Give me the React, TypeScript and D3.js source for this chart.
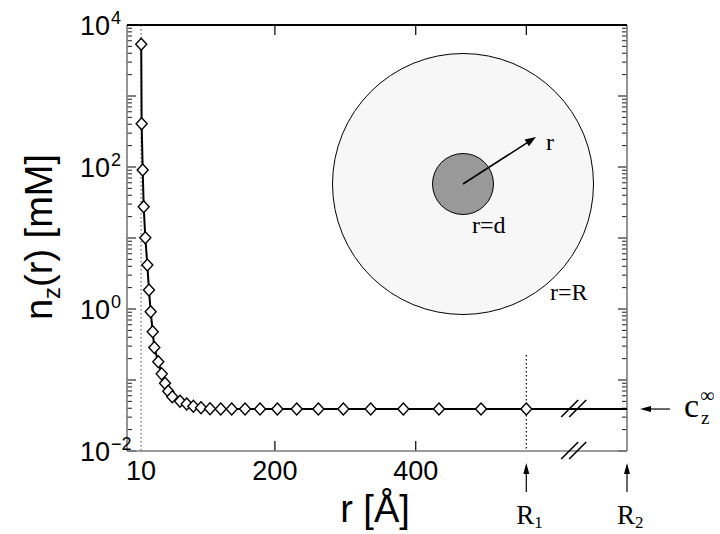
import React from "react";
import * as d3 from "d3";

// ---- data ----
const rValues = [10.2, 10.8, 12.3, 13.7, 16.0, 18.9, 21.2, 23.6, 26.5, 28.8, 34.4, 39.3, 44, 48.6, 54.3, 65.3, 74.8, 84.2, 95.1, 107.9, 123.1, 138.7, 157.6, 178.9, 203.5, 231, 261.7, 297.2, 336, 382.4, 433, 492.7, 557];
const nValues = [5350, 407, 90.8, 27.6, 10.1, 4.17, 1.85, 0.916, 0.479, 0.287, 0.181, 0.122, 0.0899, 0.0695, 0.058, 0.0501, 0.0459, 0.0428, 0.0406, 0.0394, 0.039, 0.039, 0.039, 0.039, 0.039, 0.039, 0.039, 0.039, 0.039, 0.039, 0.039, 0.039, 0.039];
const C_INF = 0.039;
const WALL_R = 10;
const R1 = 557;
const R2 = 700;
const BREAK_R = 625;
const xTickValues = [10, 200, 400];
const xTickLabels = ["10", "200", "400"];
const yLabelExps = [4, 2, 0, -2];
const yDecades = [-2, -1, 0, 1, 2, 3, 4];

const W = 720;
const H = 534;
const L = 127, R = 627, T = 25, B = 451;

export default function App() {
  const x = d3.scaleLinear().domain([-10, R2]).range([L, R]);
  const y = d3.scaleLog().domain([1e-2, 1e4]).range([B, T]);
  const pts = rValues.map((r, i) => [r, nValues[i]] as [number, number]);
  const line = d3.line<[number, number]>().x(d => x(d[0])).y(d => y(d[1]));
  const lineData: [number, number][] = [...pts, [R2, C_INF]];

  const minor: number[] = [];
  yDecades.slice(0, -1).forEach(k => { for (let m = 2; m <= 9; m++) minor.push(m * Math.pow(10, k)); });

  const sans = "'Liberation Sans', Arial, sans-serif";
  const serif = "'Liberation Serif', 'Times New Roman', serif";
  const gray = "#7a7a7a";

  const diamond = "M0,-6L5.5,0L0,6L-5.5,0Z";
  const yInf = y(C_INF);
  const xb = x(BREAK_R);

  const slash = (cx: number, cy: number, key: string) => (
    <g key={key} stroke="#000" strokeWidth={1.6}>
      <line x1={cx - 13} y1={cy + 8} x2={cx + 4} y2={cy - 9} />
      <line x1={cx - 5} y1={cy + 8} x2={cx + 12} y2={cy - 9} />
    </g>
  );

  // inset geometry
  const icx = 463, icy = 184;
  const tipX = 536, tipY = 137;
  const ang = Math.atan2(tipY - icy, tipX - icx);
  const ah = 11, aw = 4;
  const headPts = [
    [tipX, tipY],
    [tipX - ah * Math.cos(ang) + aw * Math.sin(ang), tipY - ah * Math.sin(ang) - aw * Math.cos(ang)],
    [tipX - ah * Math.cos(ang) - aw * Math.sin(ang), tipY - ah * Math.sin(ang) + aw * Math.cos(ang)],
  ].map(p => p.join(",")).join(" ");

  const upArrow = (ax: number, key: string) => (
    <g key={key}>
      <line x1={ax} y1={472} x2={ax} y2={492} stroke="#000" strokeWidth={1.2} />
      <polygon points={`${ax},463 ${ax - 3},474 ${ax + 3},474`} fill="#000" />
    </g>
  );

  return (
    <svg width={W} height={H} style={{ position: "absolute", left: 0, top: 0, background: "#fff" }}>
      {/* inset */}
      <circle cx={icx} cy={icy} r={130.5} fill="#f7f7f7" stroke="#000" strokeWidth={1} />
      <circle cx={icx} cy={icy} r={30.5} fill="#999" stroke="#000" strokeWidth={1} />
      <line x1={icx} y1={icy} x2={tipX - 8 * Math.cos(ang)} y2={tipY - 8 * Math.sin(ang)} stroke="#000" strokeWidth={1.5} />
      <polygon points={headPts} fill="#000" />
      <text x={546} y={150} fontFamily={serif} fontSize={24}>r</text>
      <text x={472} y={233} fontFamily={serif} fontSize={24}>r=d</text>
      <text x={550} y={300} fontFamily={serif} fontSize={24}>r=R</text>

      {/* dotted reference lines */}
      <line x1={x(WALL_R)} x2={x(WALL_R)} y1={T} y2={B} stroke="#666" strokeWidth={1.2} strokeDasharray="1.5,2.5" />
      <line x1={x(R1)} x2={x(R1)} y1={355} y2={B} stroke="#000" strokeWidth={1.2} strokeDasharray="1.5,2.5" />

      {/* y ticks */}
      {yDecades.map(k => (
        <g key={"M" + k}>
          <line x1={L} x2={L + 9} y1={y(Math.pow(10, k))} y2={y(Math.pow(10, k))} stroke="#000" strokeWidth={1} />
          <line x1={R} x2={R - 9} y1={y(Math.pow(10, k))} y2={y(Math.pow(10, k))} stroke="#000" strokeWidth={1} />
        </g>
      ))}
      {minor.map((v, i) => (
        <g key={"m" + i}>
          <line x1={L} x2={L + 5} y1={y(v)} y2={y(v)} stroke="#000" strokeWidth={0.9} />
          <line x1={R} x2={R - 5} y1={y(v)} y2={y(v)} stroke="#000" strokeWidth={0.9} />
        </g>
      ))}
      {/* x ticks */}
      {xTickValues.filter(v => v !== WALL_R).map(v => (
        <g key={"x" + v}>
          <line x1={x(v)} x2={x(v)} y1={B} y2={B - 10} stroke="#000" strokeWidth={1.2} />
          <line x1={x(v)} x2={x(v)} y1={T} y2={T + 10} stroke="#000" strokeWidth={1.2} />
        </g>
      ))}
      <line x1={x(R1)} x2={x(R1)} y1={T} y2={T + 10} stroke="#000" strokeWidth={1.2} />

      {/* frame */}
      <line x1={L} x2={L} y1={T} y2={B} stroke={gray} strokeWidth={1.6} />
      <line x1={R} x2={R} y1={T} y2={B} stroke={gray} strokeWidth={1.6} />
      <line x1={L} x2={R} y1={B} y2={B} stroke={gray} strokeWidth={1.6} />
      <line x1={L} x2={R} y1={T} y2={T} stroke="#000" strokeWidth={1.8} />

      {/* data */}
      <path d={line(lineData) || ""} fill="none" stroke="#000" strokeWidth={2} />
      {pts.map((p, i) => (
        <path key={"d" + i} d={diamond} transform={`translate(${x(p[0])},${y(p[1])})`} fill="#fff" stroke="#000" strokeWidth={1.4} />
      ))}

      {/* axis break */}
      {slash(xb, yInf, "s1")}
      {slash(xb, B, "s2")}

      {/* tick labels */}
      {xTickValues.map((v, i) => (
        <text key={"xl" + v} x={x(v)} y={480} textAnchor="middle" fontFamily={sans} fontSize={27}>{xTickLabels[i]}</text>
      ))}
      {yLabelExps.map(k => (
        <g key={"yl" + k}>
          <text x={110} y={y(Math.pow(10, k)) + 10} textAnchor="end" fontFamily={sans} fontSize={27}>10</text>
          <text x={111} y={y(Math.pow(10, k)) - 1} fontFamily={sans} fontSize={18}>{k < 0 ? "\u2212" + Math.abs(k) : String(k)}</text>
        </g>
      ))}

      {/* axis titles */}
      <text x={375} y={522} textAnchor="middle" fontFamily={sans} fontSize={38}>r [Å]</text>
      <text transform="translate(52,237) rotate(-90)" textAnchor="middle" fontFamily={sans} fontSize={38}>
        n<tspan fontSize={24} dy={8}>z</tspan><tspan dy={-8}>(r) [mM]</tspan>
      </text>

      {/* R1, R2 markers */}
      {upArrow(x(R1), "a1")}
      {upArrow(x(R2), "a2")}
      <text x={x(R1) - 10} y={524} fontFamily={serif} fontSize={27}>R<tspan fontSize={17} dy={4}>1</tspan></text>
      <text x={x(R2) - 10} y={524} fontFamily={serif} fontSize={27}>R<tspan fontSize={17} dy={4}>2</tspan></text>

      {/* c_z infinity */}
      <line x1={670} x2={648} y1={yInf} y2={yInf} stroke="#000" strokeWidth={1.2} />
      <polygon points={`640,${yInf} 651,${yInf - 3} 651,${yInf + 3}`} fill="#000" />
      <text x={684} y={yInf + 8} fontFamily={serif} fontSize={34}>c</text>
      <text x={701} y={yInf + 15} fontFamily={serif} fontSize={19}>z</text>
      <text x={700} y={yInf - 7} fontFamily={serif} fontSize={20}>∞</text>
    </svg>
  );
}
